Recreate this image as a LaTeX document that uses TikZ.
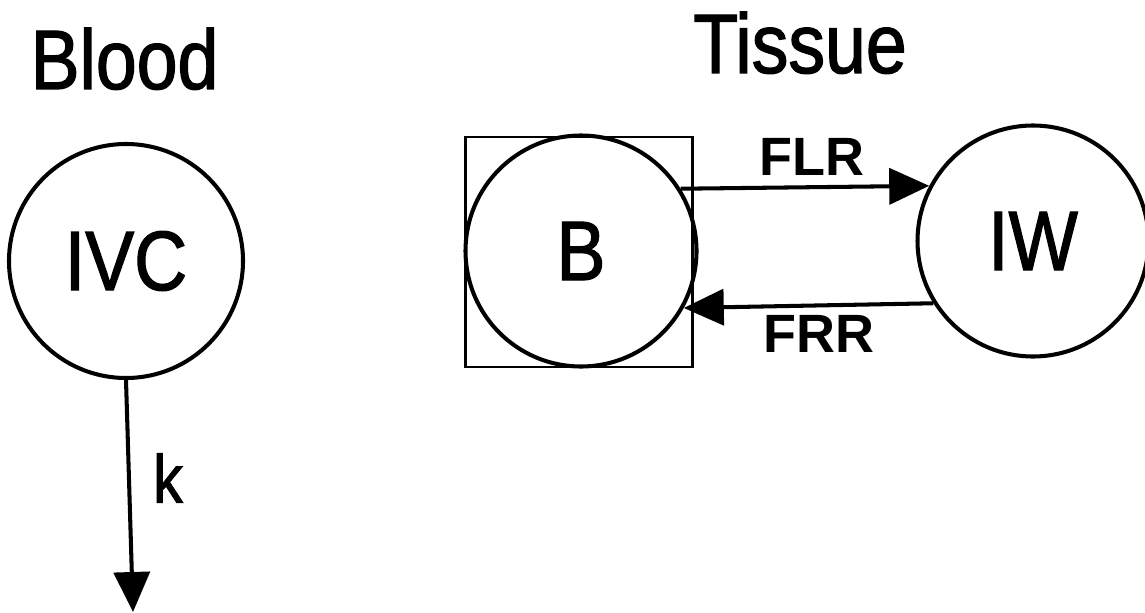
\documentclass[tikz,border=0pt]{standalone}
\usepackage{fontspec}
\setmainfont{Liberation Sans}
\newfontfamily\plotfont[FakeStretch=0.87,FakeBold=1.5]{Liberation Sans}
\usepackage{tikz}
\usetikzlibrary{arrows.meta}
\tikzset{pool/.style={circle,draw,line width=2.3pt,minimum size=4.62cm,inner sep=0pt,font=\plotfont\fontsize{48}{50}\selectfont},tissuebox/.style={draw,line width=1.7pt,minimum width=4.54cm,minimum height=4.6cm,inner sep=0pt},flow/.style={line width=2.3pt,-{Triangle[length=.8cm,width=.72cm]}},heading/.style={font=\plotfont\fontsize{48}{50}\selectfont,inner sep=0pt,anchor=base},ratelabel/.style={font=\bfseries\fontsize{30.7}{32}\selectfont,inner sep=0pt},klabel/.style={font=\plotfont\fontsize{38.7}{40}\selectfont,inner sep=0pt}}

\begin{document}
\begin{tikzpicture}[scale=1]
\useasboundingbox (0,0) rectangle (22.9,-12.24);
\node[heading] (blood) at (2.49,-1.78) {Blood};\node[heading] (tissue) at (16.0,-1.46) {Tissue};
\node[pool,minimum size=4.68cm] (IVC) at (2.52,-5.22) {IVC};
\node[tissuebox] (Bbox) at (11.57,-5.04) {};
\node[pool] (B) at (11.62,-5.02) {B};\node[pool] (IW) at (20.66,-4.82) {IW};
\coordinate (kout) at (2.66,-12.24);
\draw[flow] (IVC.south) -- (kout);
\draw[flow] (B.32) -- (IW.152);\draw[flow] (IW.212) -- (B.-29);
\node[ratelabel] (FLR) at (16.24,-3.14) {FLR};\node[ratelabel] (FRR) at (16.38,-6.68) {FRR};
\node[klabel] (k) at (3.36,-9.56) {k};
\end{tikzpicture}
\end{document}
